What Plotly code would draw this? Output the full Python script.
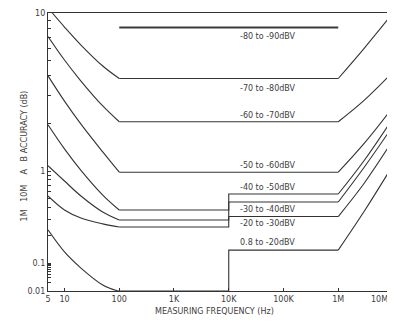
import numpy as np
import plotly.graph_objects as go

# ---------------- data ----------------
# accuracy (dB) vs measuring frequency (Hz)
LEFT_F = [5, 10, 20, 50, 100]

A_left = [10.0, 8.15, 6.27, 4.62, 3.85]      # -70 to -80dBV (starts ~6 Hz)
A_left_f = [6, 10, 20, 50, 100]
B_left = [7.1, 5.04, 3.71, 2.58, 2.05]       # -60 to -70dBV
C_left = [4.0, 2.77, 1.98, 1.32, 0.97]       # -50 to -60dBV
D_left = [1.96, 1.38, 1.01, 0.548, 0.377]    # -40 to -50dBV
E_left = [1.08, 0.778, 0.535, 0.358, 0.293]  # -30 to -40dBV
F_left = [0.535, 0.377, 0.308, 0.266, 0.246] # -20 to -30dBV
G_left = [0.229, 0.132, 0.066, 0.0164, 0.01] # 0.8 to -20dBV
G_left_f = [5, 10, 20, 50, 95]

# flat part: level below 10 kHz, level above 10 kHz (up to 1 MHz)
FLAT_LOW = {"A": 3.85, "B": 2.05, "C": 0.97, "D": 0.377, "E": 0.293, "F": 0.246, "G": 0.01}
FLAT_HIGH = {"A": 3.85, "B": 2.05, "C": 0.97, "D": 0.562, "E": 0.46, "F": 0.32, "G": 0.138}

RISE_F = [1e6, 3e6, 1e7]
RISE = {
    "A": [3.85, 6.0, 10.0],
    "B": [2.05, 2.81, 4.24],
    "C": [0.97, 1.50, 2.54],
    "D": [0.562, 1.17, 2.16],
    "E": [0.46, 1.06, 1.93],
    "F": [0.32, 0.741, 1.57],
    "G": [0.138, 0.367, 1.09],
}

TOP_F = [100, 1e6]          # -80 to -90dBV
TOP_V = [8.1, 8.1]

LABELS = ["-80 to -90dBV", "-70 to -80dBV", "-60 to -70dBV", "-50 to -60dBV",
          "-40 to -50dBV", "-30 to -40dBV", "-20 to -30dBV", "0.8 to -20dBV"]
LABEL_LEVEL = [7.05, 3.35, 2.26, 1.08, 0.67, 0.386, 0.272, 0.169]
LABEL_F = 52000

X_TICKS = [5, 10, 100, 1e3, 1e4, 1e5, 1e6, 1e7]
X_TICKTEXT = ["5", "10", "100", "1K", "10K", "100K", "1M", ""]
LAST_X_LABEL = "10M"
Y_TICKS = [0.01, 0.1, 1, 10]
Y_TICKTEXT = ["0.01", "0.1", "1", "10"]

# ---------------- the chart's non-uniform accuracy scale ----------------
ANCHOR_LOG = [-2, -1, 0, 1]
ANCHOR_U = [0, 28, 120, 278]


def yscale(v):
    return np.interp(np.log10(np.asarray(v, dtype=float)), ANCHOR_LOG, ANCHOR_U)


LINE = "#333333"
TXT = "#404040"
FONT = "DejaVu Sans, Liberation Sans, sans-serif"
fig = go.Figure()


def add(xs, ys, shape="linear", width=1.1, color=LINE):
    fig.add_trace(go.Scatter(x=xs, y=yscale(ys), mode="lines",
                             line=dict(color=color, width=width, shape=shape, smoothing=1.0),
                             hoverinfo="skip"))


lefts = {"A": (A_left_f, A_left), "B": (LEFT_F, B_left), "C": (LEFT_F, C_left),
         "D": (LEFT_F, D_left), "E": (LEFT_F, E_left), "F": (LEFT_F, F_left),
         "G": (G_left_f, G_left)}

for k, (lf, lv) in lefts.items():
    add(lf, lv, shape="spline")
    mid_x = [lf[-1], 1e4, 1e4, 1e6]
    mid_y = [FLAT_LOW[k], FLAT_LOW[k], FLAT_HIGH[k], FLAT_HIGH[k]]
    add(mid_x, mid_y)
    add(RISE_F, RISE[k], shape="spline")

add(TOP_F, TOP_V, width=1.9, color="#3a3a3a")

for t, lv in zip(LABELS, LABEL_LEVEL):
    fig.add_annotation(x=np.log10(LABEL_F), y=float(yscale(lv)), xref="x", yref="y",
                       text=t, showarrow=False, font=dict(size=8, color=TXT, family=FONT))

minor_vals = [m * 10.0 ** e for e in (-2, -1, 0) for m in range(2, 10)]

# page body has an 8px margin: the figure is sized so the plot lands where the
# reference puts it (plot area x 48..393, y 13..291 in the window)
fig.update_layout(
    width=387, height=316,
    margin=dict(l=40, r=2, t=5, b=33),
    paper_bgcolor="white", plot_bgcolor="white",
    showlegend=False,
    font=dict(family=FONT, size=8, color=TXT),
    xaxis=dict(type="log", range=[np.log10(5), 7], showline=True, linecolor=LINE,
               linewidth=1.3, mirror=True, showgrid=False, zeroline=False,
               ticks="inside", ticklen=3, tickcolor=LINE,
               tickvals=X_TICKS, ticktext=X_TICKTEXT, tickfont=dict(size=8, color=TXT),
               automargin=False),
    yaxis=dict(range=[0, 278], showline=True, linecolor=LINE, linewidth=1.3,
               showgrid=False, zeroline=False, ticks="inside", ticklen=3,
               tickcolor=LINE, tickvals=list(yscale(Y_TICKS)), ticktext=Y_TICKTEXT,
               tickfont=dict(size=8, color=TXT), automargin=False,
               minor=dict(tickvals=list(yscale(minor_vals)), ticks="inside",
                          ticklen=3, tickcolor=LINE, showgrid=False)),
)

# last frequency label sits at the right edge: anchor it so it stays inside
fig.add_annotation(x=1.0, y=0, xref="paper", yref="paper", xanchor="right",
                   yanchor="top", yshift=-2, xshift=-3, text=LAST_X_LABEL, showarrow=False,
                   font=dict(size=8, color=TXT, family=FONT))
fig.add_annotation(x=0.484, y=-0.097, xref="paper", yref="paper",
                   text="MEASURING FREQUENCY (Hz)", showarrow=False,
                   font=dict(size=8, color=TXT, family=FONT))
fig.add_annotation(x=-0.087, y=0.486, xref="paper", yref="paper",
                   text="1M\u00a0\u00a0\u00a010M\u00a0\u00a0\u00a0\u00a0A\u00a0\u00a0\u00a0B ACCURACY (dB)",
                   textangle=-90, showarrow=False, font=dict(size=8, color=TXT, family=FONT))

fig.write_html("out.html")
